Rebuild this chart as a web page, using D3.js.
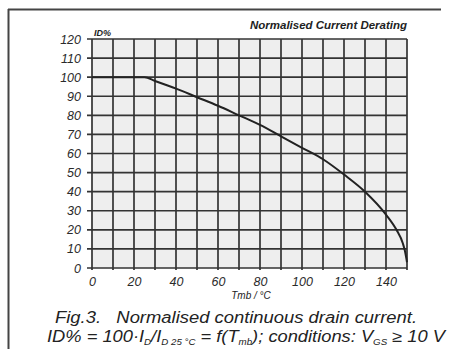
<!DOCTYPE html>
<html>
<head>
<meta charset="utf-8">
<script src="https://cdn.jsdelivr.net/npm/d3@7"></script>
<style>
  html, body { margin: 0; padding: 0; background: #fff; }
  svg { display: block; font-family: "Liberation Sans", Arial, sans-serif; }
</style>
</head>
<body>
<svg id="chart" width="451" height="349"></svg>
<script>
// Derating curve: Tmb (°C) against ID%.
var temps = [0, 25, 30, 35, 40, 50, 60, 70, 80, 90, 100, 110, 120, 130, 140, 145, 148, 149, 150];
var idPct = [100, 100, 98, 96, 94, 89.5, 85, 80, 75, 69, 63, 57, 49, 40, 28, 20, 13, 9, 3];

var xTicks = [0, 20, 40, 60, 80, 100, 120, 140];
var yTicks = [0, 10, 20, 30, 40, 50, 60, 70, 80, 90, 100, 110, 120];
var xGrid = d3.range(0, 151, 10);
var yGrid = d3.range(0, 121, 10);

(function () {
  var svg = d3.select("#chart");
  // plot box in pixels (names avoid window.top)
  var pL = 92, pR = 407, pT = 39, pB = 268;

  var x = d3.scaleLinear().domain([0, 150]).range([pL, pR]);
  var y = d3.scaleLinear().domain([0, 120]).range([pB, pT]);

  // page frame (top and left rules of the scanned box)
  svg.append("line").attr("x1", 8).attr("x2", 441).attr("y1", 9.5).attr("y2", 9.5)
    .attr("stroke", "#444").attr("stroke-width", 2);
  svg.append("line").attr("x1", 8.5).attr("x2", 8.5).attr("y1", 9).attr("y2", 349)
    .attr("stroke", "#444").attr("stroke-width", 2);

  // greyish plot background
  svg.append("rect").attr("x", pL).attr("y", pT)
    .attr("width", pR - pL).attr("height", pB - pT)
    .attr("fill", "#eeeeee");

  var grid = svg.append("g").attr("stroke", "#333").attr("stroke-width", 1.7);
  grid.selectAll("line.v").data(xGrid).join("line").attr("class", "v")
    .attr("x1", function (d) { return x(d); }).attr("x2", function (d) { return x(d); })
    .attr("y1", pT).attr("y2", pB + 2);
  grid.selectAll("line.h").data(yGrid).join("line").attr("class", "h")
    .attr("x1", pL - 5).attr("x2", pR)
    .attr("y1", function (d) { return y(d); }).attr("y2", function (d) { return y(d); });

  // axes: labels only, grid is drawn above
  var ya = svg.append("g").attr("transform", "translate(" + pL + ",0)")
    .call(d3.axisLeft(y).tickValues(yTicks).tickSize(0).tickPadding(11));
  ya.select(".domain").remove();
  ya.selectAll("text").attr("font-size", 12.5).attr("font-family", "Liberation Sans")
    .attr("font-style", "italic").attr("fill", "#2a2a2a");

  var xa = svg.append("g").attr("transform", "translate(0," + pB + ")")
    .call(d3.axisBottom(x).tickValues(xTicks).tickSize(0).tickPadding(9));
  xa.select(".domain").remove();
  xa.selectAll("text").attr("font-size", 12.5).attr("font-family", "Liberation Sans")
    .attr("font-style", "italic").attr("fill", "#2a2a2a");

  // curve
  svg.append("path")
    .datum(temps.map(function (t, i) { return [t, idPct[i]]; }))
    .attr("fill", "none").attr("stroke", "#222").attr("stroke-width", 2)
    .attr("d", d3.line()
      .x(function (d) { return x(d[0]); })
      .y(function (d) { return y(d[1]); })
      .curve(d3.curveMonotoneX));

  // titles and labels
  svg.append("text").attr("x", pR).attr("y", 29).attr("text-anchor", "end")
    .attr("font-size", 11).attr("font-style", "italic").attr("font-weight", "bold")
    .attr("textLength", 157).attr("lengthAdjust", "spacingAndGlyphs")
    .attr("fill", "#222").text("Normalised Current Derating");

  svg.append("text").attr("x", 94).attr("y", 36)
    .attr("font-size", 9).attr("font-style", "italic").attr("font-weight", "bold")
    .attr("fill", "#222").text("ID%");

  svg.append("text").attr("x", 251).attr("y", 299).attr("text-anchor", "middle")
    .attr("font-size", 10).attr("font-style", "italic").attr("fill", "#222")
    .text("Tmb / °C");

  svg.append("text").attr("x", 55).attr("y", 323)
    .attr("font-size", 16).attr("font-style", "italic").attr("fill", "#222")
    .attr("xml:space", "preserve")
    .attr("textLength", 362).attr("lengthAdjust", "spacingAndGlyphs")
    .text("Fig.3.   Normalised continuous drain current.");

  var cap = svg.append("text").attr("x", 47).attr("y", 342)
    .attr("font-size", 16).attr("font-style", "italic").attr("fill", "#222")
    .attr("textLength", 398).attr("lengthAdjust", "spacingAndGlyphs");
  var parts = [
    ["ID% = 100·I", false], ["D", true], ["/I", false], ["D 25 °C", true],
    [" = f(T", false], ["mb", true], ["); conditions: V", false], ["GS", true], [" ≥ 10 V", false]
  ];
  parts.forEach(function (p, i) {
    var t = cap.append("tspan").text(p[0]);
    if (p[1]) t.attr("font-size", 8.5).attr("dy", 3);
    else if (i > 0 && parts[i - 1][1]) t.attr("dy", -3);
  });
})();
</script>
</body>
</html>
